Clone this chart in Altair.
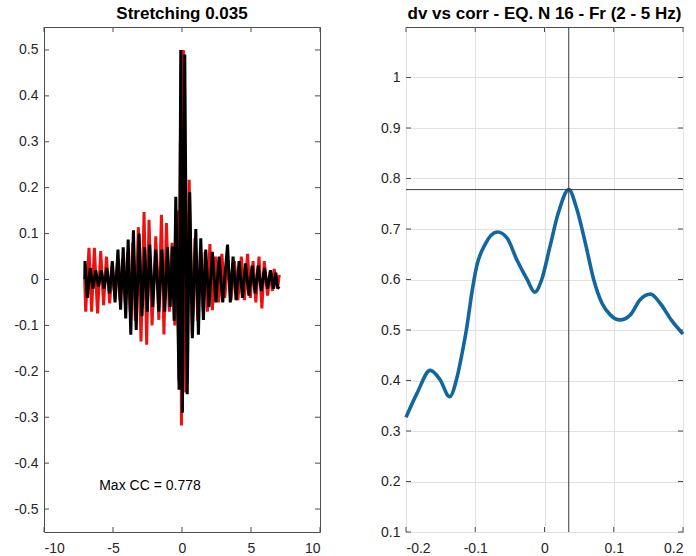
import altair as alt
import pandas as pd

# Stretching coefficient and the correlation it reaches
STRETCH = 0.035
MAX_CC = 0.778

# Reference trace (black): time (s) and amplitude at each turning point
black_t = [-7.05, -7.03, -6.86, -6.65, -6.45, -6.25, -6.05, -5.85, -5.65, -5.45,
           -5.25, -5.05, -4.85, -4.64, -4.45, -4.26, -4.08, -3.90, -3.71, -3.52,
           -3.32, -3.11, -2.90, -2.70, -2.52, -2.34, -2.12, -1.90, -1.68, -1.46,
           -1.25, -1.05, -0.86, -0.70, -0.57, -0.45, -0.21, -0.09, 0.03, 0.20,
           0.38, 0.56, 0.75, 1.00, 1.19, 1.36, 1.55, 1.72, 1.95, 2.20,
           2.45, 2.69, 2.95, 3.30, 3.50, 3.70, 3.92, 4.14, 4.38, 4.60,
           4.85, 5.08, 5.30, 5.52, 5.75, 5.98, 6.20, 6.42, 6.62, 6.80,
           6.92, 7.05]
black_v = [0.0, 0.04, -0.04, 0.025, -0.02, 0.02, -0.015, 0.02, -0.02, 0.025,
           -0.03, 0.04, -0.05, 0.065, -0.066, 0.07, -0.085, 0.087, -0.12, 0.107,
           -0.11, 0.10, -0.08, 0.07, -0.07, 0.076, -0.06, 0.065, -0.07, 0.065,
           -0.07, 0.07, -0.06, 0.072, -0.09, 0.18, -0.24, 0.50, -0.29, 0.49,
           -0.25, 0.19, -0.128, 0.11, -0.12, 0.09, -0.088, 0.065, -0.06, 0.06,
           -0.05, 0.05, -0.05, 0.076, -0.05, 0.05, -0.045, 0.04, -0.04, 0.035,
           -0.035, 0.03, -0.03, 0.03, -0.025, 0.025, -0.02, 0.02, -0.02, 0.015,
           -0.016, -0.02]

# Stretched trace (red): time (s) and amplitude at each turning point
red_t = [-7.05, -6.98, -6.74, -6.55, -6.35, -6.12, -5.89, -5.68, -5.48, -5.24,
         -5.05, -4.87, -4.68, -4.50, -4.31, -4.12, -3.94, -3.75, -3.57, -3.38,
         -3.16, -2.97, -2.75, -2.56, -2.39, -2.17, -1.90, -1.68, -1.49, -1.31,
         -1.13, -0.92, -0.72, -0.52, -0.36, -0.22, -0.12, -0.04, 0.10, 0.27,
         0.52, 0.74, 0.94, 1.14, 1.34, 1.54, 1.68, 1.84, 2.02, 2.20,
         2.42, 2.65, 2.89, 3.10, 3.32, 3.55, 3.80, 4.05, 4.30, 4.52,
         4.75, 4.95, 5.15, 5.35, 5.58, 5.79, 5.96, 6.20, 6.40, 6.55,
         6.68, 6.92, 7.05]
red_v = [0.0, -0.07, 0.069, -0.07, 0.069, -0.074, 0.062, -0.056, 0.05, -0.052,
         0.03, -0.035, 0.035, -0.045, 0.045, -0.05, 0.06, -0.07, 0.08, -0.09,
         0.114, -0.135, 0.147, -0.142, 0.13, -0.10, 0.094, -0.088, 0.141, -0.12,
         0.123, -0.07, 0.08, -0.10, 0.15, -0.22, 0.30, -0.318, 0.50, -0.246,
         0.217, -0.12, 0.09, -0.09, 0.07, -0.07, 0.06, -0.07, 0.077, -0.067,
         0.05, -0.05, 0.056, -0.04, 0.04, -0.045, 0.04, -0.045, 0.05, -0.045,
         0.056, -0.04, 0.04, -0.05, 0.05, -0.063, 0.04, -0.035, 0.02, -0.025,
         0.023, -0.02, 0.01]

# Correlation coefficient against trial velocity change
dv = [-0.200, -0.184, -0.165, -0.151, -0.137, -0.126, -0.119, -0.112, -0.105, -0.098,
      -0.086, -0.068, -0.054, -0.040, -0.025, -0.014, -0.004, 0.008, 0.020, 0.035,
      0.047, 0.059, 0.071, 0.083, 0.095, 0.109, 0.124, 0.138, 0.153, 0.167,
      0.183, 0.200]
corr = [0.327, 0.375, 0.420, 0.402, 0.368, 0.408, 0.454, 0.507, 0.573, 0.626,
        0.669, 0.694, 0.682, 0.639, 0.600, 0.575, 0.600, 0.666, 0.732, 0.778,
        0.738, 0.672, 0.600, 0.553, 0.530, 0.520, 0.530, 0.560, 0.571, 0.553,
        0.520, 0.492]

# Axis ticks
left_xticks = [-10, -5, 0, 5, 10]
left_yticks = [-0.5, -0.4, -0.3, -0.2, -0.1, 0, 0.1, 0.2, 0.3, 0.4, 0.5]
right_xticks = [-0.2, -0.1, 0, 0.1, 0.2]
right_yticks = [0.1, 0.2, 0.3, 0.4, 0.5, 0.6, 0.7, 0.8, 0.9, 1]

# Position of the annotation in data units
label_t, label_v = -6.0, -0.45

FONT = "Liberation Sans"
INK = "#262626"
FRAME = "#4d4d4d"
W_L, W_R, H = 276, 277, 505
TICK = 5

LABEL = "'' + datum.value"


def axis(values, grid, pad):
    return alt.Axis(values=values, labelExpr=LABEL, title=None, ticks=False, domain=False,
                    grid=grid, gridColor="#e2e2e2", labelPadding=pad)


def enc_x(field, domain, values, grid):
    return alt.X(f"{field}:Q", scale=alt.Scale(domain=domain, nice=False, zero=False),
                 axis=axis(values, grid, 9))


def enc_y(field, domain, values, grid):
    return alt.Y(f"{field}:Q", scale=alt.Scale(domain=domain, nice=False, zero=False),
                 axis=axis(values, grid, 6))


def inner_ticks(xvals, yvals, xdom, ydom, grid, width, height):
    """Short tick marks pointing inwards on all four sides of the box."""
    xd = pd.DataFrame({"v": xvals})
    yd = pd.DataFrame({"v": yvals})
    style = dict(color=FRAME, strokeWidth=1)
    xenc = enc_x("v", xdom, xvals, grid)
    yenc = enc_y("v", ydom, yvals, grid)
    return [
        alt.Chart(xd).mark_rule(**style).encode(x=xenc, y=alt.value(height), y2=alt.value(height - TICK)),
        alt.Chart(xd).mark_rule(**style).encode(x=xenc, y=alt.value(0), y2=alt.value(TICK)),
        alt.Chart(yd).mark_rule(**style).encode(y=yenc, x=alt.value(0), x2=alt.value(TICK)),
        alt.Chart(yd).mark_rule(**style).encode(y=yenc, x=alt.value(width), x2=alt.value(width - TICK)),
    ]


# ---- left panel: the two waveforms ----
LX, LY = [-10, 10], [-0.55, 0.55]
red_df = pd.DataFrame({"t": red_t, "v": red_v})
black_df = pd.DataFrame({"t": black_t, "v": black_v})

xl = enc_x("t", LX, left_xticks, False)
yl = enc_y("v", LY, left_yticks, False)

red_line = alt.Chart(red_df).mark_line(color="#ee1111", strokeWidth=3).encode(
    x=xl, y=yl, order="t:Q")
black_line = alt.Chart(black_df).mark_line(color="#000000", strokeWidth=3).encode(
    x=xl, y=yl, order="t:Q")
note = alt.Chart(pd.DataFrame({"t": [label_t], "v": [label_v],
                               "txt": [f"Max CC = {MAX_CC}"]})).mark_text(
    align="left", baseline="middle", font=FONT, fontSize=14, color="#000000").encode(
    x=xl, y=yl, text="txt:N")

left = alt.layer(
    red_line, black_line, note,
    *inner_ticks(left_xticks, left_yticks, LX, LY, False, W_L, H)
).properties(width=W_L, height=H, title=f"Stretching {STRETCH}")

# ---- right panel: correlation against dv ----
RX, RY = [-0.2, 0.2], [0.1, 1.1]
curve_df = pd.DataFrame({"dv": dv, "cc": corr})
xr = enc_x("dv", RX, right_xticks, True)
yr = enc_y("cc", RY, right_yticks, True)

curve = alt.Chart(curve_df).mark_line(color="#12689e", strokeWidth=3.6,
                                      interpolate="monotone").encode(x=xr, y=yr)
vline = alt.Chart(pd.DataFrame({"dv": [STRETCH]})).mark_rule(color="#3a3a3a", strokeWidth=1).encode(x=xr)
hline = alt.Chart(pd.DataFrame({"cc": [MAX_CC]})).mark_rule(color="#3a3a3a", strokeWidth=1).encode(y=yr)

right = alt.layer(
    curve, vline, hline,
    *inner_ticks(right_xticks, right_yticks, RX, RY, True, W_R, H)
).properties(width=W_R, height=H, title="dv vs corr - EQ. N 16 - Fr (2 - 5 Hz)")

chart = alt.hconcat(left, right, spacing=59).properties(
    padding={"left": 13, "top": 4, "right": 5, "bottom": 5},
    background="white",
).configure_view(
    stroke=FRAME, strokeWidth=1
).configure_title(
    font=FONT, fontSize=17, fontWeight="bold", color="#000000", offset=4, anchor="middle"
).configure_axis(
    labelFont=FONT, labelFontSize=14, labelColor=INK
)

chart.save("out.html", embed_options={"renderer": "svg", "actions": False})
